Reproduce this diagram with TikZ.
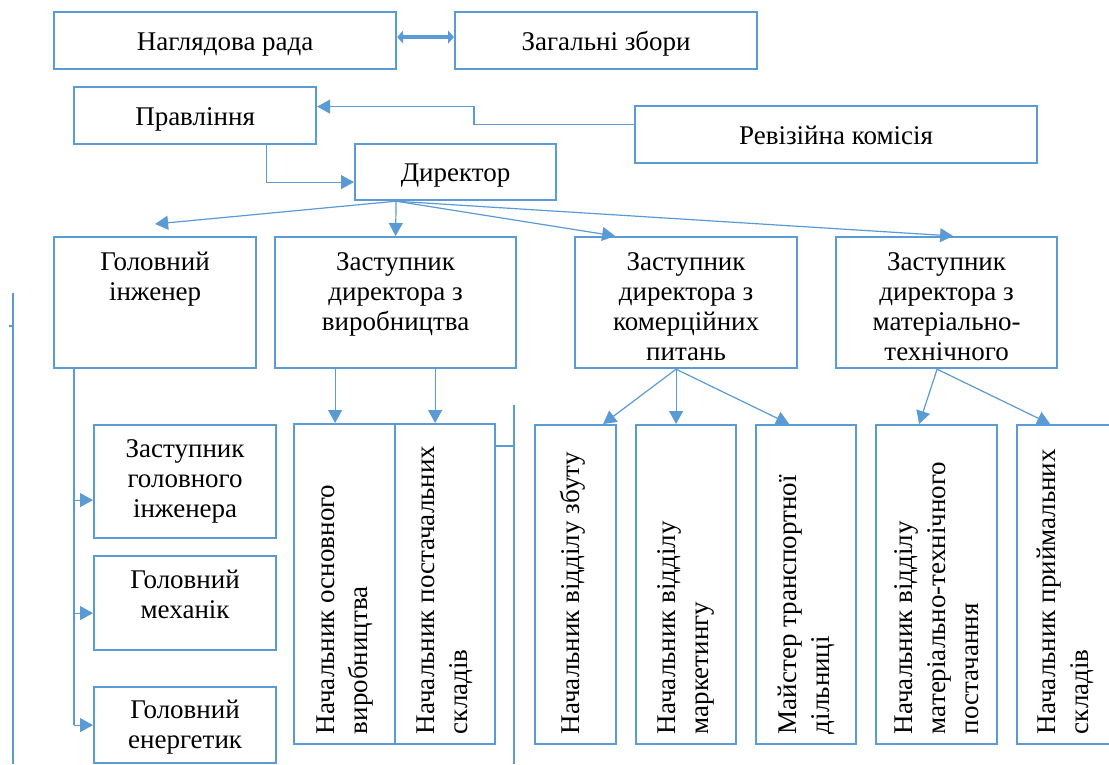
\documentclass[tikz,border=0pt]{standalone}
\usepackage{fontspec}
\setmainfont{Liberation Serif}
\usetikzlibrary{arrows.meta,calc}
\definecolor{bl}{RGB}{91,155,213}
\newcommand\hfnt{\fontsize{27}{30}\selectfont}
\newcommand\vfnt{\fontsize{27}{33}\selectfont}
\newcommand\myst{\rule{0pt}{21pt}}
\begin{document}
\begin{tikzpicture}[x=1pt,y=-1pt,
  box/.style={draw=bl, line width=2.2pt, inner sep=0pt, anchor=north west, font=\hfnt, align=center},
  one/.style={text height=19pt, text depth=0pt},
  txt/.style={inner sep=0pt, anchor=north, align=center, font=\hfnt},
  vtxt/.style={inner sep=0pt, rotate=90, anchor=west, align=left, font=\vfnt},
  ln/.style={draw=bl, line width=1.2pt},
  arr/.style={ln, -{Triangle[length=13pt,width=14pt]}},
  dbl/.style={draw=bl, line width=4pt, {Triangle[length=6pt,width=13pt]}-{Triangle[length=6pt,width=13pt]}}
]
\clip (0,0) rectangle (1109,764);
\fill[white] (0,0) rectangle (1109,764);

% top level
\node[box,one,minimum width=342pt,minimum height=57pt] (nr) at (53,11) {Наглядова рада};
\node[box,one,minimum width=302pt,minimum height=57pt] (zz) at (454,11) {Загальні збори};
\node[box,one,minimum width=242pt,minimum height=57pt] (prav) at (73,86) {Правління};
\node[box,one,minimum width=201pt,minimum height=56pt] (dir) at (354,143) {Директор};
\node[box,one,minimum width=402pt,minimum height=57pt] (rev) at (634,105) {Ревізійна комісія};

% second level
\node[box,minimum width=202pt,minimum height=131pt] (gi) at (53,236) {};
\node[txt] at ([yshift=-13pt]gi.north) {\myst Головний\\інженер};
\node[box,minimum width=241pt,minimum height=131pt] (zv) at (274,236) {};
\node[txt] at ([yshift=-13pt]zv.north) {\myst Заступник\\директора з\\виробництва};
\node[box,minimum width=222pt,minimum height=131pt] (zk) at (574,236) {};
\node[txt] at ([yshift=-13pt]zk.north) {\myst Заступник\\директора з\\комерційних\\питань};
\node[box,minimum width=221pt,minimum height=131pt] (zm) at (835,236) {};
\node[txt] at ([yshift=-13pt]zm.north) {\myst Заступник\\директора з\\матеріально-\\технічного};

% left column
\node[box,minimum width=182pt,minimum height=113pt] (zgi) at (93,424) {};
\node[txt] at ([yshift=-12pt]zgi.north) {\myst Заступник\\головного\\інженера};
\node[box,minimum width=182pt,minimum height=94pt] (gm) at (93,555) {};
\node[txt] at ([yshift=-12pt]gm.north) {\myst Головний\\механік};
\node[box,minimum width=182pt,minimum height=76pt] (ge) at (93,686) {};
\node[txt] at ([yshift=-11pt]ge.north) {\myst Головний\\енергетик};

% vertical boxes
\node[box,minimum width=101pt,minimum height=320pt] (no) at (293,423) {};
\node[vtxt] at ([yshift=11pt]no.south) {Начальник основного\\виробництва};
\node[box,minimum width=100pt,minimum height=320pt] (np) at (394,423) {};
\node[vtxt] at ([yshift=11pt]np.south) {Начальник постачальних\\складів};
\node[box,minimum width=81pt,minimum height=319pt] (zb) at (534,424) {};
\node[vtxt] at ([yshift=11pt,xshift=-3pt]zb.south) {Начальник відділу збуту};
\node[box,minimum width=100pt,minimum height=319pt] (mk) at (635,424) {};
\node[vtxt] at ([yshift=11pt]mk.south) {Начальник відділу\\маркетингу};
\node[box,minimum width=100pt,minimum height=319pt] (tr) at (755,424) {};
\node[vtxt] at ([yshift=11pt]tr.south) {Майстер транспортної\\дільниці};
\node[box,minimum width=121pt,minimum height=319pt] (mt) at (875,424) {};
\node[vtxt] at ([yshift=11pt]mt.south) {Начальник відділу\\матеріально-технічного\\постачання};
\node[box,minimum width=96pt,minimum height=319pt] (pr) at (1016,424) {};
\node[vtxt] at ([yshift=11pt]pr.south) {Начальник приймальних\\складів};

% connectors: top
\draw[dbl] ([yshift=3.5pt]nr.east) -- ([yshift=3.5pt]zz.west);
\coordinate (r1) at ([yshift=10.5pt]rev.west);
\coordinate (rx) at (474,0);
\draw[arr] (r1) -- (rx |- r1) |- ([yshift=9pt]prav.east);
\draw[arr] ([xshift=71pt]prav.south) |- ([yshift=-10pt]dir.west);

% director to deputies
\coordinate (d0) at ([xshift=-59.5pt]dir.south);
\draw[arr] (d0) -- ([yshift=12pt]gi.north);
\draw[arr] (d0) -- (zv.north);
\draw[arr] (d0) -- ([xshift=-71pt]zk.north);
\draw[arr] (d0) -- ([xshift=6.5pt]zm.north);

% chief engineer trunk
\coordinate (tk) at ([xshift=21pt]gi.south west);
\coordinate (a1) at ([yshift=-18.5pt]zgi.west);
\coordinate (a2) at ([yshift=-10pt]gm.west);
\draw[ln] (tk) -- (tk |- ge.west);
\draw[arr] (tk |- a1) -- (a1);
\draw[arr] (tk |- a2) -- (a2);
\draw[arr] (tk |- ge.west) -- (ge.west);

% production deputy
\coordinate (v1) at ([xshift=-60.5pt]zv.south);
\coordinate (v2) at ([xshift=39.5pt]zv.south);
\draw[arr] (v1) -- (v1 |- no.north);
\draw[arr] (v2) -- (v2 |- np.north);

% commercial deputy
\coordinate (k0) at ([xshift=-10pt]zk.south);
\draw[arr] (k0) -- ([xshift=27.5pt]zb.north);
\draw[arr] (k0) -- (k0 |- mk.north);
\draw[arr] (k0) -- ([xshift=-17pt]tr.north);

% material deputy
\coordinate (m0) at ([xshift=-9.5pt]zm.south);
\draw[arr] (m0) -- ([xshift=-17.5pt]mt.north);
\draw[arr] (m0) -- ([xshift=-15pt]pr.north);

% free lines
\coordinate (vl) at (514,405);
\coordinate (np1) at ([yshift=-23pt]np.north east);
\draw[ln] (vl) -- (514,764);
\draw[ln] (np1) -- (vl |- np1);
\draw[ln] (13,293) -- (13,764);
\draw[ln] (9,326) -- (13,326);
\end{tikzpicture}
\end{document}
